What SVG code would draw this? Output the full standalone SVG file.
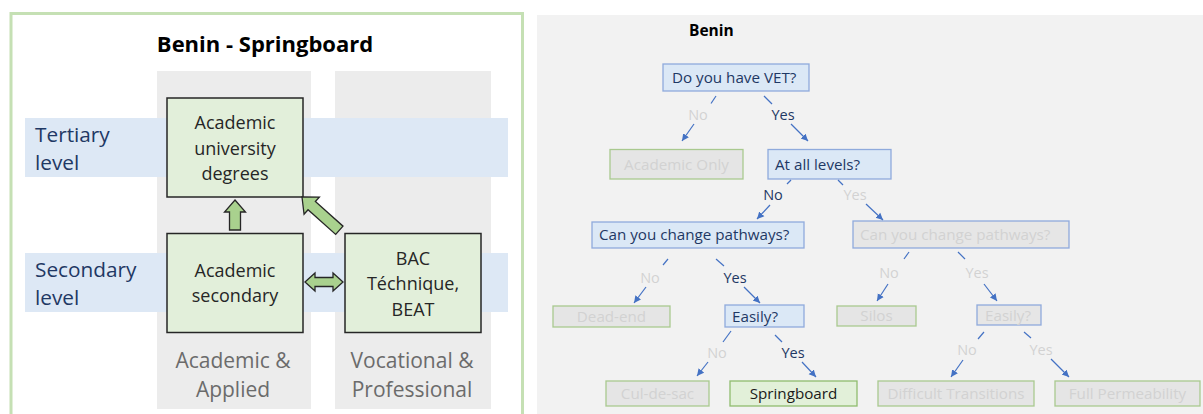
<svg xmlns="http://www.w3.org/2000/svg" width="1203" height="414" viewBox="0 0 1203 414">
<defs>
<marker id="ah" markerUnits="userSpaceOnUse" markerWidth="9" markerHeight="9" refX="7" refY="4" orient="auto"><path d="M0,0.5 L7,4 L0,7.5 z" fill="#4472c4"/></marker>
</defs>
<style>
text{font-family:"Open Sans","Liberation Sans",sans-serif}
.frame{fill:#fff;stroke:#c5e0b4;stroke-width:3}
.col{fill:#ececec}
.band{fill:#dde8f5}
.box{fill:#e2efda;stroke:#262626;stroke-width:1.5}
.bt{font-size:18px;fill:#262626;text-anchor:middle}
.lvl{font-size:20.8px;fill:#1f3864}
.cl{font-size:21px;fill:#6b6b6b;text-anchor:middle}
.blk{fill:#a9d18e;stroke:#262626;stroke-width:1.3}
.panel{fill:#f2f2f2}
.q{fill:#dbe8f6;stroke:#8faadc;stroke-width:1.3}
.qf{fill:#e6e6e6;stroke:#8faadc;stroke-width:1.3}
.o{fill:#e5e5e5;stroke:#a9c98f;stroke-width:1.3}
.os{fill:#e2f0d9;stroke:#8fbc6e;stroke-width:1.3}
.t{font-size:15.2px}
.dk{fill:#1f3864}
.ft{fill:#d2d2d2}
.mid{text-anchor:middle}
.lb{font-size:14.5px;text-anchor:middle}
.ln{stroke:#4472c4;stroke-width:1.2;fill:none}
</style>
<rect width="1203" height="414" fill="#fff"/>

<!-- LEFT PANEL -->
<g id="left-panel">
<rect class="frame" x="11" y="13.5" width="511.5" height="420"/>
<text x="265" y="52" text-anchor="middle" font-size="22" font-weight="bold" fill="#000">Benin - Springboard</text>
<rect class="col" x="157" y="71" width="154" height="338"/>
<rect class="col" x="335" y="71" width="156" height="338"/>
<rect class="band" x="25" y="118" width="483" height="59"/>
<rect class="band" x="25" y="253" width="483" height="59"/>
<text class="lvl" x="35" y="141.5">Tertiary</text>
<text class="lvl" x="35" y="170">level</text>
<text class="lvl" x="35" y="276.5">Secondary</text>
<text class="lvl" x="35" y="305">level</text>
<text class="cl" x="233" y="368">Academic &amp;</text>
<text class="cl" x="233" y="396.5">Applied</text>
<text class="cl" x="412" y="368">Vocational &amp;</text>
<text class="cl" x="412" y="396.5">Professional</text>
</g>

<g id="node-univ">
<rect class="box" x="167" y="98" width="136" height="99"/>
<text class="bt" x="235" y="129">Academic</text>
<text class="bt" x="235" y="154.5">university</text>
<text class="bt" x="235" y="180">degrees</text>
</g>
<g id="node-acsec">
<rect class="box" x="167" y="233.5" width="136" height="99"/>
<text class="bt" x="235" y="277">Academic</text>
<text class="bt" x="235" y="302">secondary</text>
</g>
<g id="node-bac">
<rect class="box" x="345" y="233.5" width="136" height="99"/>
<text class="bt" x="413" y="265">BAC</text>
<text class="bt" x="413" y="290">Téchnique,</text>
<text class="bt" x="413" y="315.5">BEAT</text>
</g>

<g id="left-connectors">
<path class="blk" d="M235,200 L245.5,212 L240.5,212 L240.5,230 L229.5,230 L229.5,212 L224.5,212 Z"/>
<path class="blk" transform="translate(302,197) rotate(-48.3)" d="M0,0 L11.5,13 L5.5,13 L5.5,50 L-5.5,50 L-5.5,13 L-11.5,13 Z"/>
<path class="blk" d="M305,282 L315,273 L315,277.5 L333,277.5 L333,273 L343,282 L333,291 L333,286.5 L315,286.5 L315,291 Z"/>
</g>

<!-- RIGHT PANEL -->
<rect class="panel" x="537" y="15" width="666" height="399"/>
<text x="689" y="36" font-size="15.5" font-weight="bold" fill="#000">Benin</text>

<g id="q-vet">
<rect class="q" x="663" y="64" width="146" height="27"/>
<text class="t dk" x="672" y="83">Do you have VET?</text>
</g>
<g id="o-academic-only">
<rect class="o" x="610" y="149.5" width="133" height="29.5"/>
<text class="t ft mid" x="676.5" y="169.5">Academic Only</text>
</g>
<g id="q-all-levels">
<rect class="q" x="768" y="149.5" width="123" height="29.5"/>
<text class="t dk" x="775" y="169.5">At all levels?</text>
</g>
<g id="q-change-left">
<rect class="q" x="592" y="222" width="212" height="26"/>
<text class="t dk" x="599" y="240">Can you change pathways?</text>
</g>
<g id="q-change-right">
<rect class="qf" x="853" y="221" width="216" height="27"/>
<text class="t ft" x="860" y="240">Can you change pathways?</text>
</g>
<g id="o-dead-end">
<rect class="o" x="553" y="306" width="117" height="21"/>
<text class="t ft mid" x="611.5" y="322">Dead-end</text>
</g>
<g id="q-easily-left">
<rect class="q" x="725" y="305" width="79" height="22"/>
<text class="t dk" x="732" y="321.5">Easily?</text>
</g>
<g id="o-silos">
<rect class="o" x="837" y="306" width="79" height="20"/>
<text class="t ft mid" x="876.5" y="321">Silos</text>
</g>
<g id="q-easily-right">
<rect class="qf" x="977" y="305" width="64" height="20"/>
<text class="t ft" x="985" y="321">Easily?</text>
</g>
<g id="o-cul-de-sac">
<rect class="o" x="606" y="381" width="103" height="25"/>
<text class="t ft mid" x="657.5" y="399">Cul-de-sac</text>
</g>
<g id="o-springboard">
<rect class="os" x="730" y="381" width="127" height="25"/>
<text class="t mid" x="793.5" y="399" fill="#1a1a1a">Springboard</text>
</g>
<g id="o-difficult">
<rect class="o" x="878" y="381" width="156" height="25"/>
<text class="t ft mid" x="956" y="399">Difficult Transitions</text>
</g>
<g id="o-full">
<rect class="o" x="1055" y="381" width="145" height="25"/>
<text class="t ft mid" x="1127.5" y="399">Full Permeability</text>
</g>

<g id="connectors">
<line class="ln" x1="716" y1="96" x2="711" y2="103.5"/>
<line class="ln" x1="694" y1="124" x2="682" y2="141" marker-end="url(#ah)"/>
<text class="lb ft" x="698" y="120">No</text>
<line class="ln" x1="764" y1="96" x2="772" y2="104"/>
<line class="ln" x1="791" y1="124" x2="808" y2="141" marker-end="url(#ah)"/>
<text class="lb dk" x="783" y="120">Yes</text>

<line class="ln" x1="791" y1="180" x2="787" y2="184"/>
<line class="ln" x1="770" y1="205" x2="757" y2="219" marker-end="url(#ah)"/>
<text class="lb dk" x="773" y="200">No</text>
<line class="ln" x1="838" y1="180" x2="843" y2="185"/>
<line class="ln" x1="866" y1="204" x2="883" y2="220" marker-end="url(#ah)"/>
<text class="lb ft" x="855" y="200">Yes</text>

<line class="ln" x1="668" y1="259" x2="663" y2="265"/>
<line class="ln" x1="646" y1="287" x2="634" y2="303" marker-end="url(#ah)"/>
<text class="lb ft" x="650" y="283">No</text>
<line class="ln" x1="716" y1="259" x2="724" y2="266"/>
<line class="ln" x1="744" y1="287" x2="760" y2="303" marker-end="url(#ah)"/>
<text class="lb dk" x="735" y="283">Yes</text>

<line class="ln" x1="909" y1="252" x2="904" y2="259"/>
<line class="ln" x1="888" y1="284" x2="877" y2="301" marker-end="url(#ah)"/>
<text class="lb ft" x="889" y="278">No</text>
<line class="ln" x1="958" y1="252" x2="965" y2="259"/>
<line class="ln" x1="984" y1="284" x2="997" y2="301" marker-end="url(#ah)"/>
<text class="lb ft" x="977" y="278">Yes</text>

<line class="ln" x1="731" y1="331" x2="723" y2="342"/>
<line class="ln" x1="708" y1="362" x2="697" y2="376" marker-end="url(#ah)"/>
<text class="lb ft" x="717" y="358">No</text>
<line class="ln" x1="775" y1="335" x2="782" y2="342"/>
<line class="ln" x1="802" y1="362" x2="816" y2="377" marker-end="url(#ah)"/>
<text class="lb dk" x="793" y="358">Yes</text>

<line class="ln" x1="984" y1="332" x2="978" y2="339"/>
<line class="ln" x1="963" y1="360" x2="951" y2="377" marker-end="url(#ah)"/>
<text class="lb ft" x="967" y="355">No</text>
<line class="ln" x1="1024" y1="332" x2="1031" y2="338"/>
<line class="ln" x1="1051" y1="359" x2="1069" y2="377" marker-end="url(#ah)"/>
<text class="lb ft" x="1041" y="355">Yes</text>
</g>
</svg>
